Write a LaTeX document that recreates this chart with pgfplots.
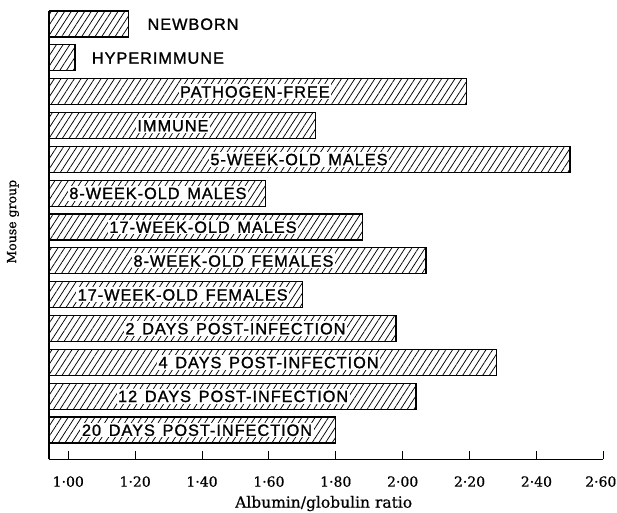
\documentclass[border=0pt]{standalone}
\usepackage{fontspec}
\setmainfont{DejaVu Serif}[FakeBold=0.6]
\newfontfamily\barfont[LetterSpace=6, WordSpace=1.4, FakeBold=1.3]{Liberation Sans}
\usepackage{pgfplots}
\pgfplotsset{compat=1.18}
\usetikzlibrary{patterns.meta}
\tikzset{barlabel/.style={font=\barfont\fontsize{16.3}{18}\selectfont, fill=white,
  inner xsep=1.5pt, inner ysep=1.5pt, text height=11.7pt, text depth=0pt, anchor=center}}

\begin{document}
\begin{tikzpicture}
\path[use as bounding box] (0,0) rectangle (617pt,512pt);
\begin{axis}[
  at={(49pt,52.7pt)}, anchor=south west,
  scale only axis, width=554.3pt, height=448.3pt,
  xmin=0.9423, xmax=2.6, ymin=-0.866, ymax=12.384,
  xbar, bar width=26pt,
  axis x line=bottom, axis y line=left,
  axis line style={-, line width=1.3pt, black},
  xtick={1.0,1.2,1.4,1.6,1.8,2.0,2.2,2.4,2.6},
  xticklabels={1·00,1·20,1·40,1·60,1·80,2·00,2·20,2·40,2·60\kern5pt},
  ytick=\empty,
  tick align=inside, major tick length=8pt,
  tick style={line width=1pt, black},
  xticklabel style={font=\fontsize{14}{16}\selectfont, anchor=base, yshift=-27.4pt},
  xlabel={Albumin/globulin ratio},
  xlabel style={font=\fontsize{15.5}{17}\selectfont, at={(axis description cs:0.5,0)}, anchor=base, yshift=-48.4pt, xshift=-2.5pt},
  ylabel={Mouse group},
  ylabel style={font=\fontsize{12.5}{14}\selectfont, at={(axis description cs:-0.065,0.53)}, anchor=center},
]
% albumin/globulin ratio for each mouse group (0 = bottom row)
\addplot[draw=black, line width=1.3pt,
  pattern={Lines[angle=57, distance=5.6pt, line width=0.75pt]}]
  coordinates {(1.80,0) (2.04,1) (2.28,2) (1.98,3) (1.70,4) (2.07,5) (1.88,6)
               (1.59,7) (2.50,8) (1.74,9) (2.19,10) (1.02,11) (1.18,12)};
\node[barlabel] at (axis cs:1.373,12) {NEWBORN};
\node[barlabel] at (axis cs:1.268,11) {HYPERIMMUNE};
\node[barlabel] at (axis cs:1.558,10) {PATHOGEN-FREE};
\node[barlabel] at (axis cs:1.313,9) {IMMUNE};
\node[barlabel] at (axis cs:1.690,8) {5-WEEK-OLD MALES};
\node[barlabel] at (axis cs:1.268,7) {8-WEEK-OLD MALES};
\node[barlabel] at (axis cs:1.403,6) {17-WEEK-OLD MALES};
\node[barlabel] at (axis cs:1.494,5) {8-WEEK-OLD FEMALES};
\node[barlabel] at (axis cs:1.342,4) {17-WEEK-OLD FEMALES};
\node[barlabel] at (axis cs:1.500,3) {2 DAYS POST-INFECTION};
\node[barlabel] at (axis cs:1.599,2) {4 DAYS POST-INFECTION};
\node[barlabel] at (axis cs:1.493,1) {12 DAYS POST-INFECTION};
\node[barlabel] at (axis cs:1.385,0) {20 DAYS POST-INFECTION};
\end{axis}
\end{tikzpicture}
\end{document}
